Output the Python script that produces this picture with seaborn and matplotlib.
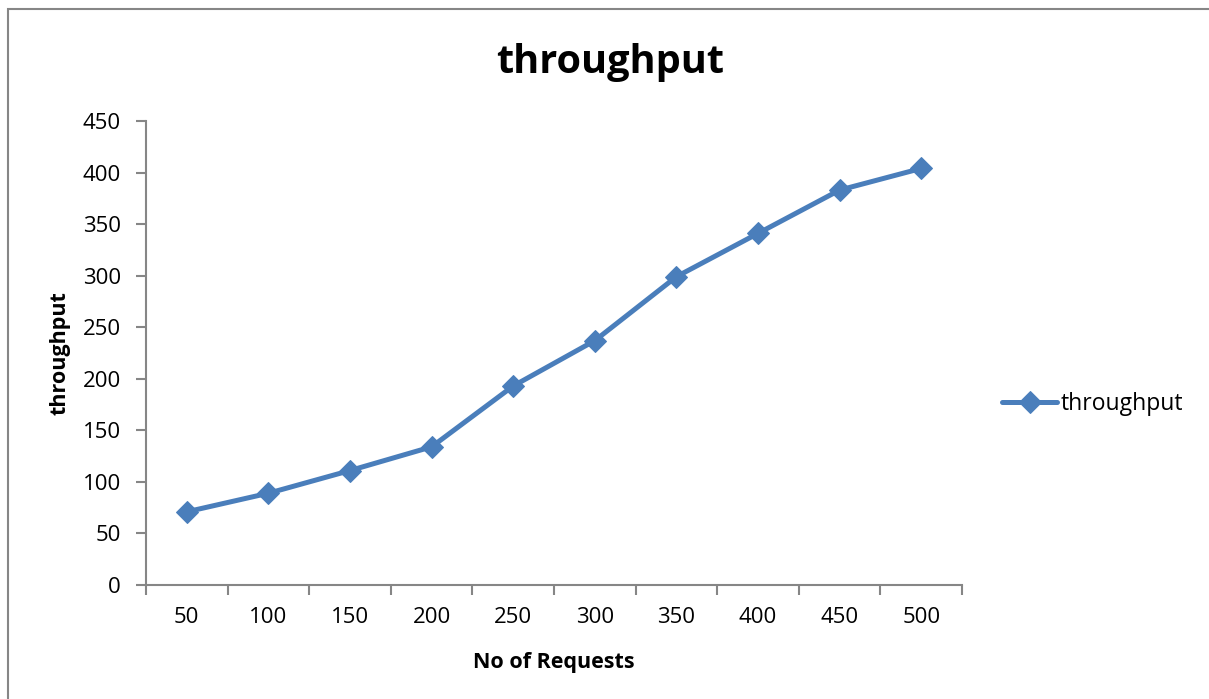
import matplotlib
matplotlib.use("Agg")
import matplotlib.pyplot as plt
from matplotlib.patches import Rectangle
import seaborn as sns
import pandas as pd

requests = ["50", "100", "150", "200", "250", "300", "350", "400", "450", "500"]
throughput = [71, 89, 111, 134, 193, 237, 299, 341, 383, 404]
y_ticks = [0, 50, 100, 150, 200, 250, 300, 350, 400, 450]

sns.set_style("ticks")
plt.rcParams["font.family"] = ["Open Sans", "DejaVu Sans"]
plt.rcParams["text.color"] = "black"
plt.rcParams["axes.labelcolor"] = "black"
plt.rcParams["xtick.color"] = "black"
plt.rcParams["ytick.color"] = "black"

df = pd.DataFrame({"No of Requests": requests, "throughput": throughput})

W, H = 1209, 699
fig = plt.figure(figsize=(W / 100, H / 100), dpi=100)
ax = fig.add_axes([146 / W, 1 - 585 / H, (962 - 146) / W, (585 - 121) / H])

blue = "#4A7EBB"
axis_grey = "#868686"

sns.lineplot(data=df, x="No of Requests", y="throughput", ax=ax, sort=False,
             color=blue, linewidth=3.6, marker="D", markersize=11.5,
             markeredgecolor=blue, label="throughput")

ax.set_xlim(-0.5, len(requests) - 0.5)
ax.set_ylim(0, 450)
ax.set_yticks(y_ticks)
ax.set_xticks([i - 0.5 for i in range(len(requests) + 1)], minor=False)
ax.set_xticklabels([])
ax.set_xticks(range(len(requests)), minor=True)
ax.set_xticklabels(requests, minor=True)
ax.tick_params(axis="x", which="minor", length=0, labelsize=16, pad=16)
ax.tick_params(axis="x", which="major", length=7, width=1.5, color=axis_grey)
ax.tick_params(axis="y", length=7, width=1.5, color=axis_grey, labelsize=16, pad=11)

for side in ("top", "right"):
    ax.spines[side].set_visible(False)
for side in ("left", "bottom"):
    ax.spines[side].set_color(axis_grey)
    ax.spines[side].set_linewidth(1.5)

ax.set_xlabel("No of Requests", fontsize=15.5, fontweight="bold", labelpad=17)
ax.set_ylabel("throughput", fontsize=15.5, fontweight="bold", labelpad=9)
fig.text(610 / W, 1 - 62 / H, "throughput", ha="center", va="center",
         fontsize=28.5, fontweight="bold")

leg = ax.legend(loc="center left", bbox_to_anchor=(1.038, 0.39), frameon=False,
                fontsize=16.5, handlelength=2.4, handletextpad=0.15, borderaxespad=0)

# chart frame
fig.patches.append(Rectangle((7.5 / W, -0.1), 1.2, 1.1 - 9.5 / H,
                             transform=fig.transFigure, fill=False,
                             edgecolor=axis_grey, linewidth=1.5))

fig.savefig("out.png", dpi=100, facecolor="white")
